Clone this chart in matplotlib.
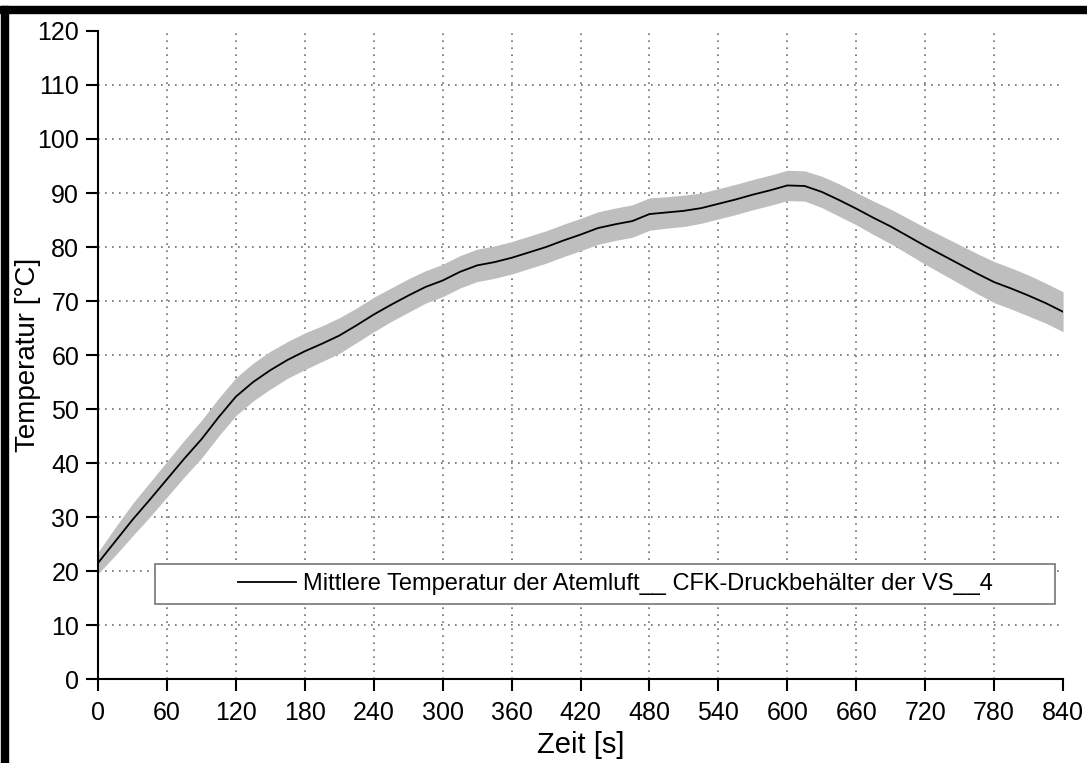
import matplotlib.pyplot as plt
from matplotlib.patches import Rectangle

plt.rcParams["font.family"] = ["Liberation Sans", "DejaVu Sans"]

# Zeit in s und gemittelte Temperatur in °C
zeit = [0, 15, 30, 45, 60, 75, 90, 105, 120, 135, 150, 165, 180, 195, 210,
        225, 240, 255, 270, 285, 300, 315, 330, 345, 360, 375, 390, 405, 420,
        435, 450, 465, 480, 495, 510, 525, 540, 555, 570, 585, 600, 615, 630,
        645, 660, 675, 690, 705, 720, 735, 750, 765, 780, 795, 810, 825, 840]
temp = [21.5, 25.5, 29.5, 33.2, 37.0, 40.8, 44.4, 48.5, 52.3, 55.0, 57.2,
        59.1, 60.7, 62.1, 63.6, 65.5, 67.5, 69.3, 71.0, 72.6, 73.8, 75.4,
        76.6, 77.2, 78.0, 79.0, 80.0, 81.2, 82.3, 83.5, 84.2, 84.8, 86.1,
        86.4, 86.7, 87.2, 88.0, 88.8, 89.7, 90.5, 91.4, 91.3, 90.2, 88.7,
        87.1, 85.4, 83.8, 82.0, 80.2, 78.5, 76.8, 75.1, 73.5, 72.3, 71.0,
        69.6, 68.0]
# halbe Breite des Streubandes
streuung = [2.0, 2.6, 3.0, 3.2, 3.3, 3.4, 3.5, 3.5, 3.5, 3.5, 3.5, 3.4, 3.4,
            3.3, 3.3, 3.2, 3.2, 3.1, 3.1, 3.0, 3.0, 3.0, 3.0, 3.0, 3.0, 3.0,
            3.0, 3.0, 3.0, 3.0, 3.0, 3.0, 3.0, 2.9, 2.9, 2.8, 2.8, 2.8, 2.8,
            2.8, 2.8, 2.8, 2.9, 3.0, 3.0, 3.1, 3.2, 3.3, 3.4, 3.5, 3.6, 3.7,
            3.8, 3.8, 3.8, 3.7, 3.7]

xticks = list(range(0, 841, 60))
yticks = list(range(0, 121, 10))
label = "Mittlere Temperatur der Atemluft__ CFK-Druckbehälter der VS__4"

unten = [t - s for t, s in zip(temp, streuung)]
oben = [t + s for t, s in zip(temp, streuung)]

fig = plt.figure(figsize=(10.87, 7.63), dpi=100)
ax = fig.add_axes([0.0902, 0.110, 0.8878, 0.8494])

for v in xticks[1:-1]:
    ax.axvline(v, color="#6e6e6e", lw=1.2, ls=(0, (1, 3.2)), zorder=0)
for v in yticks[1:-1]:
    ax.axhline(v, color="#6e6e6e", lw=1.2, ls=(0, (1, 3.2)), zorder=0)

ax.fill_between(zeit, unten, oben, color="#bebebe", lw=0, zorder=1)
ax.plot(zeit, temp, color="black", lw=1.3, zorder=2, label=label)

ax.set_xlim(0, 840)
ax.set_ylim(0, 120)
ax.set_xticks(xticks)
ax.set_yticks(yticks)
ax.spines["top"].set_visible(False)
ax.spines["right"].set_visible(False)
ax.spines["left"].set_linewidth(1.5)
ax.spines["bottom"].set_linewidth(1.5)
ax.tick_params(axis="both", direction="out", length=8.6, width=1.5,
               labelsize=18)
ax.tick_params(axis="x", pad=7)
ax.tick_params(axis="y", pad=5)

ax.set_xlabel("Zeit [s]", fontsize=21)
ax.set_ylabel("Temperatur [°C]", fontsize=20)
ax.xaxis.set_label_coords(0.5, -0.080)
ax.yaxis.set_label_coords(-0.059, 0.5)

# Legendenrahmen
ax.add_patch(Rectangle((0.0591, 0.1157), 0.9326, 0.0617, transform=ax.transAxes,
                       facecolor="white", edgecolor="#808080", lw=1.3,
                       zorder=3))
leg = ax.legend(loc="center", bbox_to_anchor=(0.536, 0.1466), frameon=False,
                fontsize=17, handlelength=2.45, handletextpad=0.3)
leg.set_zorder(4)

# schwarzer Rand oben und links
fig.patches.append(Rectangle((0, 1 - 13 / 763), 1, 7 / 763,
                             transform=fig.transFigure, color="black"))
fig.patches.append(Rectangle((1 / 1087, 0), 7 / 1087, 1 - 6 / 763,
                             transform=fig.transFigure, color="black"))

fig.savefig("out.png", dpi=100)
